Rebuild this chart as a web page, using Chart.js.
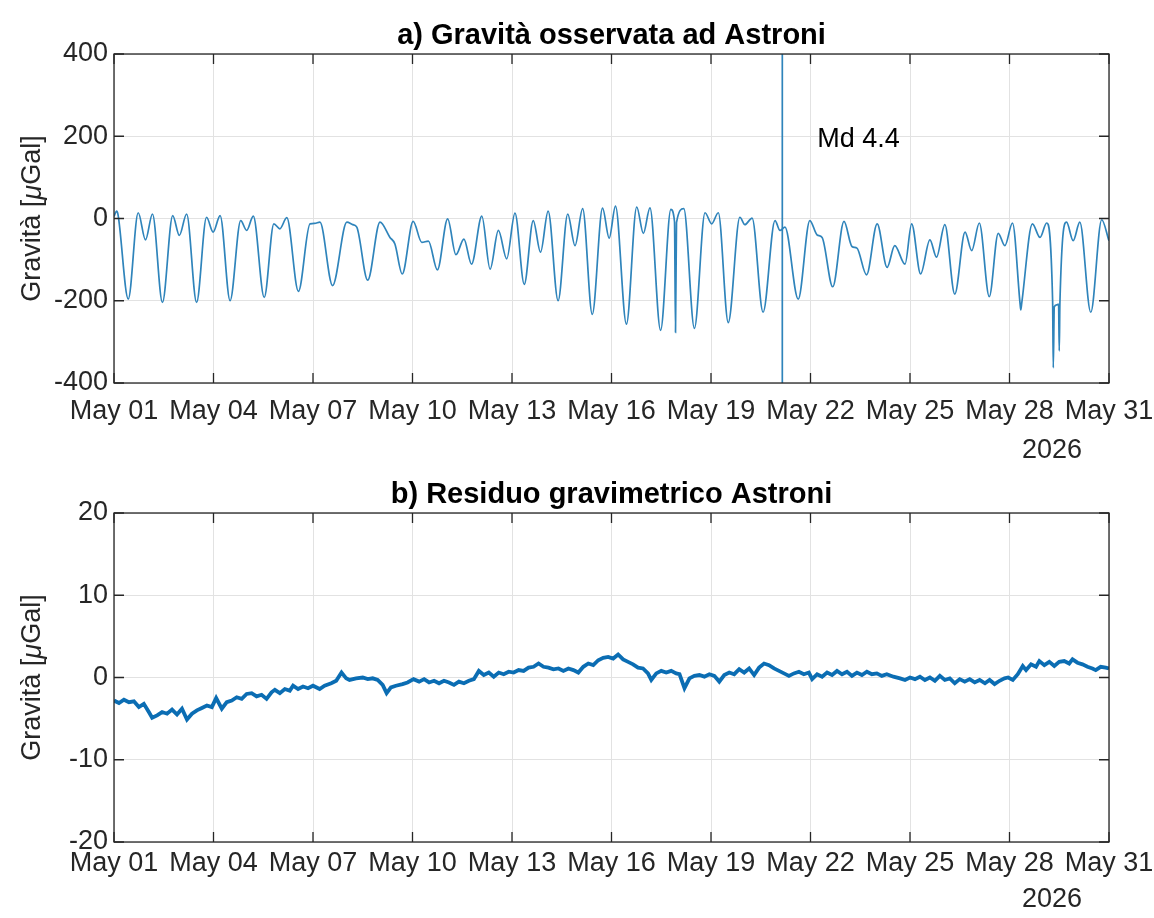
<!DOCTYPE html>
<html>
<head>
<meta charset="utf-8">
<script src="https://cdn.jsdelivr.net/npm/chart.js@4.4.1/dist/chart.umd.min.js"></script>
<style>
  html, body { margin: 0; padding: 0; background: #fff; }
  .wrap { position: relative; width: 1154px; height: 918px; }
  canvas { position: absolute; left: 0; }
</style>
</head>
<body>
<div class="wrap">
  <canvas id="obs" width="1154" height="459" style="top:0"></canvas>
  <canvas id="res" width="1154" height="459" style="top:459px"></canvas>
</div>
<script>
// x in days since May 01 00:00 (2026)
const xTicks = [0, 3, 6, 9, 12, 15, 18, 21, 24, 27, 30];
const xTickLabels = ['May 01', 'May 04', 'May 07', 'May 10', 'May 13', 'May 16', 'May 19', 'May 22', 'May 25', 'May 28', 'May 31'];
const yearLabel = '2026';

// a) observed gravity (µGal), read from the picture at peaks / troughs
const obsDays = [
  0.0, 0.08, 0.12, 0.43, 0.73, 0.95, 1.16, 1.46, 1.77, 1.97, 2.19, 2.49, 2.79, 2.99, 3.2, 3.5,
  3.82, 4.0, 4.2, 4.53, 4.82, 5.0, 5.21, 5.56, 5.91, 6.05, 6.21, 6.59, 7.02, 7.2, 7.32, 7.65,
  8.02, 8.32, 8.47, 8.69, 9.02, 9.28, 9.48, 9.75, 10.06, 10.31, 10.55, 10.78, 11.09, 11.34, 11.59, 11.84,
  12.09, 12.37, 12.64, 12.86, 13.09, 13.39, 13.68, 13.9, 14.13, 14.42, 14.73, 14.93, 15.12, 15.45,
  15.76, 15.96, 16.16, 16.48, 16.79, 16.9, 16.93, 16.96, 17.18, 17.5, 17.82, 18.02, 18.22, 18.52,
  18.87, 19.02, 19.24, 19.57, 19.93, 20.08, 20.23, 20.63, 20.98, 21.2, 21.35, 21.67, 22.01, 22.25,
  22.4, 22.69, 23.01, 23.31, 23.54, 23.85, 24.05, 24.32, 24.6, 24.8, 25.05, 25.35, 25.66, 25.86,
  26.09, 26.39, 26.66, 26.86, 27.09, 27.32, 27.34, 27.37, 27.69, 27.92, 28.12, 28.3, 28.32, 28.35,
  28.42, 28.48, 28.5, 28.52, 28.72, 28.92, 29.12, 29.45, 29.78, 30.0
];
const obsGal = [
  5, 18, 10, -196, 14, -52, 11, -204, 7, -41, 11, -204, 3, -33, 7, -200,
  -5, -29, 6, -192, -13, -25, 2, -177, -13, -12, -9, -163, -9, -15, -21, -150,
  -9, -46, -62, -135, -7, -58, -55, -125, -1, -88, -50, -111, 6, -123, -29, -98,
  13, -160, -5, -82, 18, -200, 11, -66, 24, -233, 25, -48, 30, -257,
  28, -36, 26, -272, 22, -8, -277, -10, 24, -267, 14, -13, 14, -253,
  3, -15, 1, -228, -5, -29, -21, -196, -5, -40, -46, -166, -7, -68,
  -72, -137, -13, -119, -66, -111, -13, -135, -52, -94, -15, -184, -33, -78,
  -11, -190, -36, -66, -11, -208, -222, -205, -13, -46, -11, -200, -363, -215,
  -210, -208, -322, -205, -9, -54, -9, -228, -3, -54
];

// earthquake marker
const quakeDay = 20.15;
const quakeLabel = 'Md 4.4';

// b) gravimetric residual (µGal)
const resDays = [
  0.0, 0.15, 0.3, 0.45, 0.6, 0.75, 0.9, 1.05, 1.15, 1.3, 1.45, 1.6, 1.75, 1.9, 2.05, 2.2, 2.35, 2.5, 2.65, 2.8,
  2.95, 3.08, 3.25, 3.4, 3.55, 3.7, 3.85, 4.0, 4.15, 4.3, 4.45, 4.6, 4.75, 4.85, 5.0, 5.15, 5.3, 5.4, 5.55, 5.7,
  5.85, 6.0, 6.2, 6.35, 6.55, 6.7, 6.86, 7.0, 7.1, 7.3, 7.5, 7.65, 7.8, 7.95, 8.1, 8.22, 8.35, 8.5, 8.7, 8.85,
  9.03, 9.2, 9.35, 9.5, 9.65, 9.8, 9.95, 10.1, 10.25, 10.4, 10.55, 10.7, 10.85, 11.0, 11.15, 11.3, 11.45, 11.6, 11.75, 11.9,
  12.05, 12.2, 12.35, 12.5, 12.65, 12.8, 12.95, 13.1, 13.25, 13.4, 13.55, 13.7, 13.85, 14.0, 14.15, 14.3, 14.45, 14.6, 14.75, 14.9,
  15.05, 15.2, 15.35, 15.5, 15.65, 15.8, 15.95, 16.1, 16.2, 16.35, 16.5, 16.65, 16.8, 16.95, 17.05, 17.2, 17.35, 17.5, 17.65, 17.8,
  17.95, 18.1, 18.25, 18.4, 18.55, 18.7, 18.85, 19.0, 19.15, 19.3, 19.45, 19.6, 19.75, 19.9, 20.05, 20.2, 20.35, 20.5, 20.65, 20.8,
  20.95, 21.05, 21.2, 21.35, 21.5, 21.65, 21.8, 21.95, 22.1, 22.25, 22.4, 22.55, 22.7, 22.85, 23.0, 23.15, 23.3, 23.5, 23.7, 23.85,
  24.0, 24.15, 24.3, 24.45, 24.6, 24.75, 24.9, 25.05, 25.2, 25.35, 25.5, 25.65, 25.8, 25.95, 26.1, 26.26, 26.4, 26.55, 26.7, 26.85,
  26.96, 27.1, 27.25, 27.4, 27.5, 27.65, 27.8, 27.9, 28.05, 28.2, 28.35, 28.5, 28.65, 28.8, 28.9, 29.05, 29.2, 29.35, 29.5, 29.6,
  29.75, 29.9, 30.0
];
const resGal = [
  -2.8, -3.1, -2.7, -3.0, -2.9, -3.6, -3.2, -4.2, -4.9, -4.6, -4.2, -4.4, -3.9, -4.5, -3.8, -5.1, -4.4, -4.0, -3.7, -3.4,
  -3.6, -2.5, -3.8, -3.0, -2.8, -2.4, -2.6, -2.0, -1.9, -2.3, -2.1, -2.6, -1.8, -1.5, -1.9, -1.4, -1.6, -1.0, -1.4, -1.1,
  -1.3, -1.0, -1.4, -1.0, -0.7, -0.4, 0.6, -0.1, -0.3, -0.1, 0.0, -0.2, -0.1, -0.3, -0.9, -1.9, -1.2, -1.0, -0.8, -0.6,
  -0.2, -0.5, -0.2, -0.6, -0.4, -0.7, -0.4, -0.6, -0.9, -0.5, -0.7, -0.4, -0.2, 0.8, 0.3, 0.6, 0.1, 0.6, 0.4, 0.7,
  0.6, 0.9, 0.8, 1.2, 1.3, 1.7, 1.3, 1.2, 1.0, 1.1, 0.8, 1.1, 0.9, 0.6, 1.3, 1.7, 1.5, 2.1, 2.4, 2.5,
  2.3, 2.8, 2.2, 1.9, 1.6, 1.2, 1.1, 0.5, -0.3, 0.5, 0.8, 0.6, 0.8, 0.5, 0.4, -1.3, -0.1, 0.2, 0.3, 0.1,
  0.4, 0.2, -0.5, 0.3, 0.6, 0.4, 1.0, 0.6, 1.1, 0.3, 1.2, 1.7, 1.5, 1.1, 0.8, 0.5, 0.2, 0.5, 0.7, 0.4,
  0.6, -0.2, 0.4, 0.1, 0.6, 0.3, 0.8, 0.4, 0.7, 0.2, 0.6, 0.3, 0.7, 0.4, 0.5, 0.2, 0.4, 0.1, -0.1, -0.3,
  0.0, -0.2, 0.1, -0.3, 0.0, -0.4, 0.2, -0.3, -0.1, -0.7, -0.2, -0.5, -0.2, -0.6, -0.3, -0.7, -0.3, -0.8, -0.4, -0.1,
  0.0, -0.3, 0.4, 1.4, 0.9, 1.6, 1.3, 2.0, 1.5, 1.9, 1.4, 1.9, 2.0, 1.7, 2.2, 1.8, 1.6, 1.3, 1.1, 0.9,
  1.3, 1.2, 1.1
];

const FONT = '"Liberation Sans", Arial, sans-serif';
const AXIS_COLOR = '#262626';
const GRID_COLOR = '#e2e2e2';

function pts(xs, ys) {
  return xs.map((x, i) => ({ x: x, y: ys[i] }));
}

// box, inward ticks, title, y label, year
const framePlugin = {
  id: 'frame',
  afterDatasetsDraw(chart, args, opts) {
    const { ctx, chartArea: a, scales } = chart;
    const x = scales.x, y = scales.y;
    ctx.save();
    ctx.strokeStyle = AXIS_COLOR;
    ctx.lineWidth = 1.3;
    ctx.strokeRect(a.left, a.top, a.right - a.left, a.bottom - a.top);
    ctx.beginPath();
    x.ticks.forEach(t => {
      const px = x.getPixelForValue(t.value);
      ctx.moveTo(px, a.bottom); ctx.lineTo(px, a.bottom - 10);
      ctx.moveTo(px, a.top); ctx.lineTo(px, a.top + 10);
    });
    y.ticks.forEach(t => {
      const py = y.getPixelForValue(t.value);
      ctx.moveTo(a.left, py); ctx.lineTo(a.left + 10, py);
      ctx.moveTo(a.right, py); ctx.lineTo(a.right - 10, py);
    });
    ctx.stroke();

    // title
    ctx.fillStyle = '#000';
    ctx.textAlign = 'center';
    ctx.textBaseline = 'middle';
    ctx.font = 'bold 29px ' + FONT;
    ctx.fillText(opts.title, (a.left + a.right) / 2, 36);

    // y label with italic mu
    const parts = [['Gravità [', 'normal'], ['μ', 'italic'], ['Gal]', 'normal']];
    let total = 0;
    parts.forEach(p => { ctx.font = p[1] + ' 27px ' + FONT; p.w = ctx.measureText(p[0]).width; total += p.w; });
    ctx.translate(33, (a.top + a.bottom) / 2);
    ctx.rotate(-Math.PI / 2);
    ctx.fillStyle = AXIS_COLOR;
    ctx.textAlign = 'left';
    let cx = -total / 2;
    parts.forEach(p => { ctx.font = p[1] + ' 27px ' + FONT; ctx.fillText(p[0], cx, 0); cx += p.w; });
    ctx.setTransform(1, 0, 0, 1, 0, 0);

    // year under last tick
    ctx.font = '27px ' + FONT;
    ctx.textAlign = 'center';
    ctx.fillText(yearLabel, 1052, a.bottom + opts.yearGap);

    if (opts.quake) {
      ctx.fillStyle = '#000';
      ctx.textAlign = 'left';
      ctx.fillText(quakeLabel, x.getPixelForValue(quakeDay) + 35, y.getPixelForValue(200) + 3);
    }
    ctx.restore();
  }
};

function makeOptions(yMin, yMax, yStep, title, quake, labelPad, yearGap) {
  return {
    responsive: false,
    animation: false,
    layout: { padding: { top: 54, right: 45, left: 0, bottom: 0 } },
    plugins: {
      legend: { display: false },
      tooltip: { enabled: false },
      frame: { title: title, quake: quake, yearGap: yearGap }
    },
    elements: { point: { radius: 0 } },
    scales: {
      x: {
        type: 'linear',
        min: 0, max: 30,
        afterBuildTicks: s => { s.ticks = xTicks.map(v => ({ value: v })); },
        afterFit: s => { s.height = 76; s.paddingLeft = 0; s.paddingRight = 0; },
        ticks: {
          autoSkip: false, maxRotation: 0, padding: labelPad,
          color: AXIS_COLOR, font: { family: FONT, size: 27 },
          callback: v => xTickLabels[xTicks.indexOf(v)]
        },
        grid: { color: GRID_COLOR, drawTicks: false },
        border: { display: false }
      },
      y: {
        min: yMin, max: yMax,
        afterFit: s => { s.width = 114; },
        ticks: {
          stepSize: yStep, padding: 6,
          color: AXIS_COLOR, font: { family: FONT, size: 27 }
        },
        grid: { color: GRID_COLOR, drawTicks: false },
        border: { display: false }
      }
    }
  };
}

new Chart(document.getElementById('obs'), {
  type: 'line',
  data: {
    datasets: [
      {
        data: pts(obsDays, obsGal),
        borderColor: '#2f84bb',
        borderWidth: 1.7,
        cubicInterpolationMode: 'monotone'
      },
      {
        data: pts([quakeDay, quakeDay], [-400, 400]),
        borderColor: '#2f84bb',
        borderWidth: 1.7
      }
    ]
  },
  options: makeOptions(-400, 400, 200, 'a) Gravità osservata ad Astroni', true, 12, 68),
  plugins: [framePlugin]
});

new Chart(document.getElementById('res'), {
  type: 'line',
  data: {
    datasets: [
      {
        data: pts(resDays, resGal),
        borderColor: '#0b6db3',
        borderWidth: 3.8,
        tension: 0
      }
    ]
  },
  options: makeOptions(-20, 20, 10, 'b) Residuo gravimetrico Astroni', false, 5, 58),
  plugins: [framePlugin]
});
</script>
</body>
</html>
